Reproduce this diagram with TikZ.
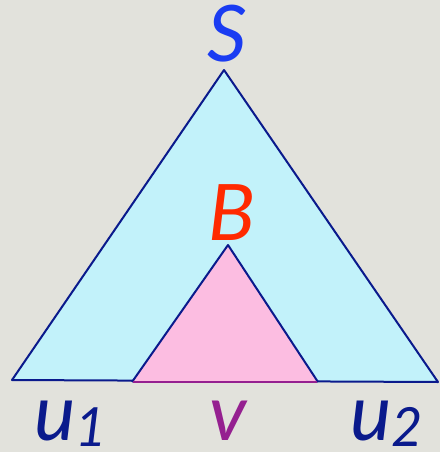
\documentclass[tikz,border=0pt]{standalone}
\usepackage{fontspec}
\setmainfont{Lato}
\usepackage{xcolor}
\definecolor{bgrey}{HTML}{E2E2DC}
\definecolor{skycyan}{HTML}{C2F2FA}
\definecolor{softpink}{HTML}{FCBDE1}
\definecolor{navyline}{HTML}{0A1A8C}
\definecolor{sblue}{HTML}{1A3CF2}
\definecolor{bred}{HTML}{FF2A00}
\definecolor{vpurple}{HTML}{952090}
\newcommand{\biglbl}{\fontsize{78}{78}\selectfont\itshape}
\newcommand{\sublbl}[1]{\raisebox{-6pt}{\fontsize{54}{54}\selectfont\itshape #1}}

\begin{document}
\begin{tikzpicture}[x=1pt, y=-1pt, every node/.style={inner sep=0pt}]
\fill[bgrey] (0,0) rectangle (440,452);
\useasboundingbox (0,0) rectangle (440,452);
% big tree
\filldraw[fill=skycyan, draw=navyline, line width=2pt, line join=round]
  (224,70) -- (438,382) -- (12,380) -- cycle;
% subtree
\fill[softpink] (228,245) -- (318,382) -- (132,382) -- cycle;
\draw[navyline, line width=2pt, line join=round] (132,382) -- (228,245) -- (318,382);
\draw[vpurple, line width=2pt] (133,382) -- (317,382);
% labels
\node[text=sblue] (s) at (227,34) {\biglbl S};
\node[text=bred] (b) at (232,213) {\biglbl B};
\node[text=navyline, anchor=base west] (u1) at (34,440) {\biglbl u\sublbl{1}};
\node[text=vpurple, anchor=base] (v) at (228,440) {\biglbl v};
\node[text=navyline, anchor=base west] (u2) at (350,440) {\biglbl u\sublbl{2}};
\end{tikzpicture}
\end{document}
